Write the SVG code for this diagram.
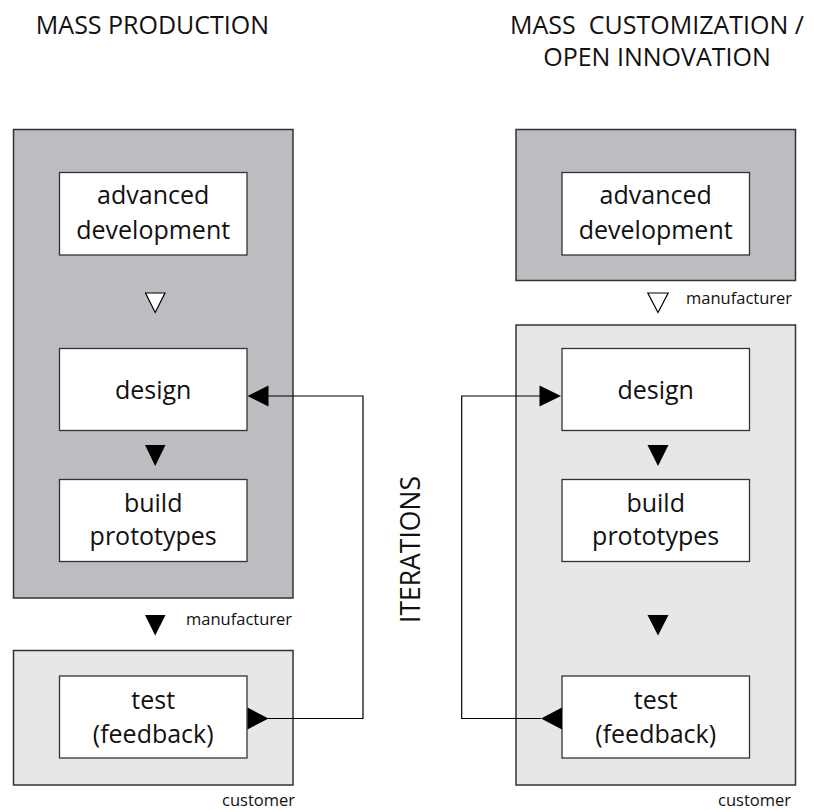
<svg xmlns="http://www.w3.org/2000/svg" width="814" height="812" viewBox="0 0 814 812">
<style>
  text { font-family: "Open Sans", "Noto Sans", sans-serif; fill: #111; }
  .title { font-size: 25px; text-anchor: middle; }
  .iter { font-size: 26.5px; text-anchor: middle; }
  .lbl { font-size: 25px; text-anchor: middle; }
  .small { font-size: 16.5px; }
  .dark { fill: #bcbdc0; stroke: #333; stroke-width: 1.5; }
  .light { fill: #e6e7e8; stroke: #333; stroke-width: 1.5; }
  .box { fill: #fff; stroke: #333; stroke-width: 1.3; }
  .tri { fill: #000; }
  .hollow { fill: #fff; stroke: #000; stroke-width: 1.2; }
  .wire { fill: none; stroke: #000; stroke-width: 1.2; }
</style>

<g id="titles">
  <text class="title" x="152.5" y="34">MASS PRODUCTION</text>
  <text class="title" x="657" y="34" xml:space="preserve">MASS  CUSTOMIZATION /</text>
  <text class="title" x="657" y="66">OPEN INNOVATION</text>
  <text class="iter" transform="translate(420,549.5) rotate(-90)">ITERATIONS</text>
</g>

<!-- Left column: mass production -->
<g id="mp-manufacturer">
  <rect class="dark" x="13.5" y="129.5" width="279.5" height="468.5"/>
  <text class="small" x="186" y="625">manufacturer</text>
</g>
<g id="mp-customer">
  <rect class="light" x="13.5" y="650.5" width="279.5" height="134.5"/>
  <text class="small" x="222" y="806">customer</text>
</g>
<g id="mp-advanced">
  <rect class="box" x="59.5" y="172.5" width="187.5" height="82.5"/>
  <text class="lbl" x="153.2" y="203.5">advanced</text>
  <text class="lbl" x="153.2" y="238.5">development</text>
</g>
<g id="mp-design">
  <rect class="box" x="59.5" y="348.5" width="187.5" height="82"/>
  <text class="lbl" x="153.2" y="399">design</text>
</g>
<g id="mp-build">
  <rect class="box" x="59.5" y="479.5" width="187.5" height="82"/>
  <text class="lbl" x="153.2" y="511.5">build</text>
  <text class="lbl" x="153.2" y="545">prototypes</text>
</g>
<g id="mp-test">
  <rect class="box" x="59.5" y="676" width="187.5" height="82"/>
  <text class="lbl" x="153.2" y="708.5">test</text>
  <text class="lbl" x="153.2" y="743">(feedback)</text>
</g>

<!-- Right column: mass customization -->
<g id="mc-manufacturer">
  <rect class="dark" x="516" y="129.5" width="279.5" height="151"/>
  <text class="small" x="686" y="303.5">manufacturer</text>
</g>
<g id="mc-customer">
  <rect class="light" x="516" y="325" width="279.5" height="460"/>
  <text class="small" x="718" y="806">customer</text>
</g>
<g id="mc-advanced">
  <rect class="box" x="562" y="172.5" width="187.5" height="82.5"/>
  <text class="lbl" x="655.7" y="203.5">advanced</text>
  <text class="lbl" x="655.7" y="238.5">development</text>
</g>
<g id="mc-design">
  <rect class="box" x="562" y="348.5" width="187.5" height="82"/>
  <text class="lbl" x="655.7" y="399">design</text>
</g>
<g id="mc-build">
  <rect class="box" x="562" y="479.5" width="187.5" height="82"/>
  <text class="lbl" x="655.7" y="511.5">build</text>
  <text class="lbl" x="655.7" y="545">prototypes</text>
</g>
<g id="mc-test">
  <rect class="box" x="562" y="676" width="187.5" height="82"/>
  <text class="lbl" x="655.7" y="708.5">test</text>
  <text class="lbl" x="655.7" y="743">(feedback)</text>
</g>

<g id="connectors">
  <!-- left column flow triangles -->
  <polygon class="hollow" points="145.5,293 165,293 155.2,312.5"/>
  <polygon class="tri" points="145,445 165.5,445 155.2,466"/>
  <polygon class="tri" points="145,615 165.5,615 155.2,635.5"/>
  <!-- left iteration loop -->
  <polyline class="wire" points="268,718.5 363,718.5 363,396 266,396"/>
  <polygon class="tri" points="247.5,396 268.5,385.5 268.5,406.5"/>
  <polygon class="tri" points="247.5,707.5 268.5,718.5 247.5,729.5"/>

  <!-- right column flow triangles -->
  <polygon class="hollow" points="647.8,293 668.2,293 658,312.5"/>
  <polygon class="tri" points="647.5,445 668.5,445 658,466"/>
  <polygon class="tri" points="647.5,615 668.5,615 658,635.5"/>
  <!-- right iteration loop -->
  <polyline class="wire" points="541,718.5 461.7,718.5 461.7,396 541,396"/>
  <polygon class="tri" points="561,396 539.5,385.5 539.5,406.5"/>
  <polygon class="tri" points="541,718.5 562,707.5 562,729.5"/>
</g>
</svg>
